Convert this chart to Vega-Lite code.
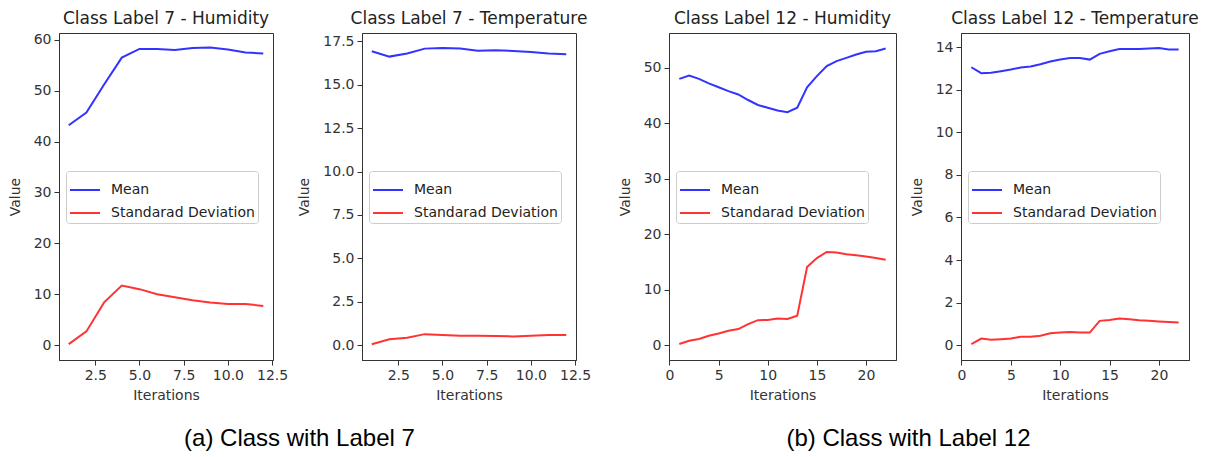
{
  "$schema": "https://vega.github.io/schema/vega-lite/v6.json",
  "padding": {"left": 7, "top": 9, "right": 0, "bottom": 0},
  "background": "white",
  "config": {
    "view": {"stroke": "#333333", "strokeWidth": 1},
    "axis": {
      "grid": false,
      "domainColor": "#333333",
      "tickColor": "#333333",
      "tickSize": 5,
      "labelFont": "DejaVu Sans",
      "labelFontSize": 14,
      "labelColor": "#333333",
      "labelPadding": 3,
      "labelOverlap": false,
      "labelFlush": false,
      "titleFont": "DejaVu Sans",
      "titleFontSize": 14,
      "titleFontWeight": "normal",
      "titleColor": "#333333"
    },
    "axisX": {"titlePadding": 6},
    "axisY": {"titlePadding": 11},
    "title": {"font": "DejaVu Sans", "fontSize": 17, "fontWeight": "normal", "color": "#222222"},
    "legend": {
      "orient": "none",
      "legendX": 7,
      "legendY": 138,
      "fillColor": "white",
      "strokeColor": "#cccccc",
      "cornerRadius": 3,
      "padding": 3,
      "symbolType": "stroke",
      "symbolSize": 900,
      "symbolStrokeWidth": 2,
      "labelFont": "DejaVu Sans",
      "labelFontSize": 14,
      "labelColor": "#222222",
      "labelOffset": 10,
      "rowPadding": 0,
      "title": null
    },
    "line": {"strokeWidth": 2}
  },
  "datasets": {
    "d": [
      {"p": "c7h", "it": 1, "s": "Mean", "v": 43.2},
      {"p": "c7h", "it": 2, "s": "Mean", "v": 45.7},
      {"p": "c7h", "it": 3, "s": "Mean", "v": 51.2},
      {"p": "c7h", "it": 4, "s": "Mean", "v": 56.5},
      {"p": "c7h", "it": 5, "s": "Mean", "v": 58.2},
      {"p": "c7h", "it": 6, "s": "Mean", "v": 58.2},
      {"p": "c7h", "it": 7, "s": "Mean", "v": 58.0},
      {"p": "c7h", "it": 8, "s": "Mean", "v": 58.4},
      {"p": "c7h", "it": 9, "s": "Mean", "v": 58.5},
      {"p": "c7h", "it": 10, "s": "Mean", "v": 58.1},
      {"p": "c7h", "it": 11, "s": "Mean", "v": 57.5},
      {"p": "c7h", "it": 12, "s": "Mean", "v": 57.3},
      {"p": "c7h", "it": 1, "s": "Standarad Deviation", "v": 0.2},
      {"p": "c7h", "it": 2, "s": "Standarad Deviation", "v": 2.7},
      {"p": "c7h", "it": 3, "s": "Standarad Deviation", "v": 8.4},
      {"p": "c7h", "it": 4, "s": "Standarad Deviation", "v": 11.7},
      {"p": "c7h", "it": 5, "s": "Standarad Deviation", "v": 11.0},
      {"p": "c7h", "it": 6, "s": "Standarad Deviation", "v": 10.0},
      {"p": "c7h", "it": 7, "s": "Standarad Deviation", "v": 9.4},
      {"p": "c7h", "it": 8, "s": "Standarad Deviation", "v": 8.8},
      {"p": "c7h", "it": 9, "s": "Standarad Deviation", "v": 8.4},
      {"p": "c7h", "it": 10, "s": "Standarad Deviation", "v": 8.1},
      {"p": "c7h", "it": 11, "s": "Standarad Deviation", "v": 8.1},
      {"p": "c7h", "it": 12, "s": "Standarad Deviation", "v": 7.7},
      {"p": "c7t", "it": 1, "s": "Mean", "v": 16.93},
      {"p": "c7t", "it": 2, "s": "Mean", "v": 16.62},
      {"p": "c7t", "it": 3, "s": "Mean", "v": 16.8},
      {"p": "c7t", "it": 4, "s": "Mean", "v": 17.08},
      {"p": "c7t", "it": 5, "s": "Mean", "v": 17.12},
      {"p": "c7t", "it": 6, "s": "Mean", "v": 17.08},
      {"p": "c7t", "it": 7, "s": "Mean", "v": 16.96},
      {"p": "c7t", "it": 8, "s": "Mean", "v": 16.98},
      {"p": "c7t", "it": 9, "s": "Mean", "v": 16.95},
      {"p": "c7t", "it": 10, "s": "Mean", "v": 16.89},
      {"p": "c7t", "it": 11, "s": "Mean", "v": 16.8},
      {"p": "c7t", "it": 12, "s": "Mean", "v": 16.76},
      {"p": "c7t", "it": 1, "s": "Standarad Deviation", "v": 0.05},
      {"p": "c7t", "it": 2, "s": "Standarad Deviation", "v": 0.33},
      {"p": "c7t", "it": 3, "s": "Standarad Deviation", "v": 0.42},
      {"p": "c7t", "it": 4, "s": "Standarad Deviation", "v": 0.63},
      {"p": "c7t", "it": 5, "s": "Standarad Deviation", "v": 0.58},
      {"p": "c7t", "it": 6, "s": "Standarad Deviation", "v": 0.54},
      {"p": "c7t", "it": 7, "s": "Standarad Deviation", "v": 0.54},
      {"p": "c7t", "it": 8, "s": "Standarad Deviation", "v": 0.52},
      {"p": "c7t", "it": 9, "s": "Standarad Deviation", "v": 0.5},
      {"p": "c7t", "it": 10, "s": "Standarad Deviation", "v": 0.54},
      {"p": "c7t", "it": 11, "s": "Standarad Deviation", "v": 0.58},
      {"p": "c7t", "it": 12, "s": "Standarad Deviation", "v": 0.58},
      {"p": "c12h", "it": 1, "s": "Mean", "v": 48.0},
      {"p": "c12h", "it": 2, "s": "Mean", "v": 48.6},
      {"p": "c12h", "it": 3, "s": "Mean", "v": 48.0},
      {"p": "c12h", "it": 4, "s": "Mean", "v": 47.2},
      {"p": "c12h", "it": 5, "s": "Mean", "v": 46.5},
      {"p": "c12h", "it": 6, "s": "Mean", "v": 45.8},
      {"p": "c12h", "it": 7, "s": "Mean", "v": 45.2},
      {"p": "c12h", "it": 8, "s": "Mean", "v": 44.2},
      {"p": "c12h", "it": 9, "s": "Mean", "v": 43.3},
      {"p": "c12h", "it": 10, "s": "Mean", "v": 42.8},
      {"p": "c12h", "it": 11, "s": "Mean", "v": 42.3},
      {"p": "c12h", "it": 12, "s": "Mean", "v": 42.0},
      {"p": "c12h", "it": 13, "s": "Mean", "v": 42.8},
      {"p": "c12h", "it": 14, "s": "Mean", "v": 46.5},
      {"p": "c12h", "it": 15, "s": "Mean", "v": 48.5},
      {"p": "c12h", "it": 16, "s": "Mean", "v": 50.3},
      {"p": "c12h", "it": 17, "s": "Mean", "v": 51.2},
      {"p": "c12h", "it": 18, "s": "Mean", "v": 51.8},
      {"p": "c12h", "it": 19, "s": "Mean", "v": 52.4},
      {"p": "c12h", "it": 20, "s": "Mean", "v": 52.9},
      {"p": "c12h", "it": 21, "s": "Mean", "v": 53.0},
      {"p": "c12h", "it": 22, "s": "Mean", "v": 53.5},
      {"p": "c12h", "it": 1, "s": "Standarad Deviation", "v": 0.2},
      {"p": "c12h", "it": 2, "s": "Standarad Deviation", "v": 0.8},
      {"p": "c12h", "it": 3, "s": "Standarad Deviation", "v": 1.1},
      {"p": "c12h", "it": 4, "s": "Standarad Deviation", "v": 1.7},
      {"p": "c12h", "it": 5, "s": "Standarad Deviation", "v": 2.1},
      {"p": "c12h", "it": 6, "s": "Standarad Deviation", "v": 2.6},
      {"p": "c12h", "it": 7, "s": "Standarad Deviation", "v": 2.9},
      {"p": "c12h", "it": 8, "s": "Standarad Deviation", "v": 3.8},
      {"p": "c12h", "it": 9, "s": "Standarad Deviation", "v": 4.5},
      {"p": "c12h", "it": 10, "s": "Standarad Deviation", "v": 4.55},
      {"p": "c12h", "it": 11, "s": "Standarad Deviation", "v": 4.8},
      {"p": "c12h", "it": 12, "s": "Standarad Deviation", "v": 4.7},
      {"p": "c12h", "it": 13, "s": "Standarad Deviation", "v": 5.3},
      {"p": "c12h", "it": 14, "s": "Standarad Deviation", "v": 14.1},
      {"p": "c12h", "it": 15, "s": "Standarad Deviation", "v": 15.7},
      {"p": "c12h", "it": 16, "s": "Standarad Deviation", "v": 16.8},
      {"p": "c12h", "it": 17, "s": "Standarad Deviation", "v": 16.7},
      {"p": "c12h", "it": 18, "s": "Standarad Deviation", "v": 16.4},
      {"p": "c12h", "it": 19, "s": "Standarad Deviation", "v": 16.2},
      {"p": "c12h", "it": 20, "s": "Standarad Deviation", "v": 16.0},
      {"p": "c12h", "it": 21, "s": "Standarad Deviation", "v": 15.7},
      {"p": "c12h", "it": 22, "s": "Standarad Deviation", "v": 15.4},
      {"p": "c12t", "it": 1, "s": "Mean", "v": 13.06},
      {"p": "c12t", "it": 2, "s": "Mean", "v": 12.78},
      {"p": "c12t", "it": 3, "s": "Mean", "v": 12.8},
      {"p": "c12t", "it": 4, "s": "Mean", "v": 12.87},
      {"p": "c12t", "it": 5, "s": "Mean", "v": 12.95},
      {"p": "c12t", "it": 6, "s": "Mean", "v": 13.05},
      {"p": "c12t", "it": 7, "s": "Mean", "v": 13.1},
      {"p": "c12t", "it": 8, "s": "Mean", "v": 13.2},
      {"p": "c12t", "it": 9, "s": "Mean", "v": 13.33},
      {"p": "c12t", "it": 10, "s": "Mean", "v": 13.42},
      {"p": "c12t", "it": 11, "s": "Mean", "v": 13.49},
      {"p": "c12t", "it": 12, "s": "Mean", "v": 13.5},
      {"p": "c12t", "it": 13, "s": "Mean", "v": 13.42},
      {"p": "c12t", "it": 14, "s": "Mean", "v": 13.69},
      {"p": "c12t", "it": 15, "s": "Mean", "v": 13.81},
      {"p": "c12t", "it": 16, "s": "Mean", "v": 13.92},
      {"p": "c12t", "it": 17, "s": "Mean", "v": 13.92},
      {"p": "c12t", "it": 18, "s": "Mean", "v": 13.92},
      {"p": "c12t", "it": 19, "s": "Mean", "v": 13.94},
      {"p": "c12t", "it": 20, "s": "Mean", "v": 13.97},
      {"p": "c12t", "it": 21, "s": "Mean", "v": 13.9},
      {"p": "c12t", "it": 22, "s": "Mean", "v": 13.9},
      {"p": "c12t", "it": 1, "s": "Standarad Deviation", "v": 0.05},
      {"p": "c12t", "it": 2, "s": "Standarad Deviation", "v": 0.31},
      {"p": "c12t", "it": 3, "s": "Standarad Deviation", "v": 0.25},
      {"p": "c12t", "it": 4, "s": "Standarad Deviation", "v": 0.28},
      {"p": "c12t", "it": 5, "s": "Standarad Deviation", "v": 0.31},
      {"p": "c12t", "it": 6, "s": "Standarad Deviation", "v": 0.39},
      {"p": "c12t", "it": 7, "s": "Standarad Deviation", "v": 0.39},
      {"p": "c12t", "it": 8, "s": "Standarad Deviation", "v": 0.44},
      {"p": "c12t", "it": 9, "s": "Standarad Deviation", "v": 0.56},
      {"p": "c12t", "it": 10, "s": "Standarad Deviation", "v": 0.59},
      {"p": "c12t", "it": 11, "s": "Standarad Deviation", "v": 0.62},
      {"p": "c12t", "it": 12, "s": "Standarad Deviation", "v": 0.59},
      {"p": "c12t", "it": 13, "s": "Standarad Deviation", "v": 0.59},
      {"p": "c12t", "it": 14, "s": "Standarad Deviation", "v": 1.14},
      {"p": "c12t", "it": 15, "s": "Standarad Deviation", "v": 1.18},
      {"p": "c12t", "it": 16, "s": "Standarad Deviation", "v": 1.25},
      {"p": "c12t", "it": 17, "s": "Standarad Deviation", "v": 1.22},
      {"p": "c12t", "it": 18, "s": "Standarad Deviation", "v": 1.17},
      {"p": "c12t", "it": 19, "s": "Standarad Deviation", "v": 1.14},
      {"p": "c12t", "it": 20, "s": "Standarad Deviation", "v": 1.11},
      {"p": "c12t", "it": 21, "s": "Standarad Deviation", "v": 1.09},
      {"p": "c12t", "it": 22, "s": "Standarad Deviation", "v": 1.06}
    ]
  },
  "resolve": {"scale": {"color": "independent"}, "legend": {"color": "independent"}},
  "spacing": 25,
  "hconcat": [
    {
      "title": {"text": "(a) Class with Label 7", "orient": "bottom", "anchor": "middle", "font": "Liberation Sans", "fontSize": 24, "color": "#000000", "baseline": "top", "offset": 24},
      "spacing": 8,
      "resolve": {"scale": {"color": "independent"}, "legend": {"color": "independent"}},
      "hconcat": [
        {
          "width": 214, "height": 327,
          "title": {"text": "Class Label 7 - Humidity", "baseline": "bottom", "offset": -12},
          "data": {"name": "d"},
          "transform": [{"filter": "datum.p == 'c7h'"}],
          "mark": {"type": "line", "clip": true},
          "encoding": {
            "x": {"field": "it", "type": "quantitative", "title": "Iterations", "scale": {"domain": [0.45, 12.55], "nice": false, "zero": false}, "axis": {"values": [2.5, 5, 7.5, 10, 12.5], "format": ".1f"}},
            "y": {"field": "v", "type": "quantitative", "title": "Value", "scale": {"domain": [-2.92, 61.33], "nice": false, "zero": false}, "axis": {"values": [0, 10, 20, 30, 40, 50, 60]}},
            "color": {"field": "s", "type": "nominal", "scale": {"domain": ["Mean", "Standarad Deviation"], "range": ["#3333ff", "#ff3333"]}}
          }
        },
        {
          "width": 214, "height": 327,
          "title": {"text": "Class Label 7 - Temperature", "baseline": "bottom", "offset": -12},
          "data": {"name": "d"},
          "transform": [{"filter": "datum.p == 'c7t'"}],
          "mark": {"type": "line", "clip": true},
          "encoding": {
            "x": {"field": "it", "type": "quantitative", "title": "Iterations", "scale": {"domain": [0.45, 12.55], "nice": false, "zero": false}, "axis": {"values": [2.5, 5, 7.5, 10, 12.5], "format": ".1f"}},
            "y": {"field": "v", "type": "quantitative", "title": "Value", "scale": {"domain": [-0.86, 17.98], "nice": false, "zero": false}, "axis": {"values": [0, 2.5, 5, 7.5, 10, 12.5, 15, 17.5], "format": ".1f"}},
            "color": {"field": "s", "type": "nominal", "scale": {"domain": ["Mean", "Standarad Deviation"], "range": ["#3333ff", "#ff3333"]}}
          }
        }
      ]
    },
    {
      "title": {"text": "(b) Class with Label 12", "orient": "bottom", "anchor": "middle", "font": "Liberation Sans", "fontSize": 24, "color": "#000000", "baseline": "top", "offset": 24},
      "spacing": 12,
      "resolve": {"scale": {"color": "independent"}, "legend": {"color": "independent"}},
      "hconcat": [
        {
          "width": 227, "height": 327,
          "title": {"text": "Class Label 12 - Humidity", "baseline": "bottom", "offset": -12},
          "data": {"name": "d"},
          "transform": [{"filter": "datum.p == 'c12h'"}],
          "mark": {"type": "line", "clip": true},
          "encoding": {
            "x": {"field": "it", "type": "quantitative", "title": "Iterations", "scale": {"domain": [-0.05, 23.05], "nice": false, "zero": false}, "axis": {"values": [0, 5, 10, 15, 20]}},
            "y": {"field": "v", "type": "quantitative", "title": "Value", "scale": {"domain": [-2.68, 56.28], "nice": false, "zero": false}, "axis": {"values": [0, 10, 20, 30, 40, 50]}},
            "color": {"field": "s", "type": "nominal", "scale": {"domain": ["Mean", "Standarad Deviation"], "range": ["#3333ff", "#ff3333"]}}
          }
        },
        {
          "width": 228, "height": 327,
          "title": {"text": "Class Label 12 - Temperature", "baseline": "bottom", "offset": -12},
          "data": {"name": "d"},
          "transform": [{"filter": "datum.p == 'c12t'"}],
          "mark": {"type": "line", "clip": true},
          "encoding": {
            "x": {"field": "it", "type": "quantitative", "title": "Iterations", "scale": {"domain": [-0.05, 23.05], "nice": false, "zero": false}, "axis": {"values": [0, 5, 10, 15, 20]}},
            "y": {"field": "v", "type": "quantitative", "title": "Value", "scale": {"domain": [-0.7, 14.67], "nice": false, "zero": false}, "axis": {"values": [0, 2, 4, 6, 8, 10, 12, 14]}},
            "color": {"field": "s", "type": "nominal", "scale": {"domain": ["Mean", "Standarad Deviation"], "range": ["#3333ff", "#ff3333"]}}
          }
        }
      ]
    }
  ]
}
